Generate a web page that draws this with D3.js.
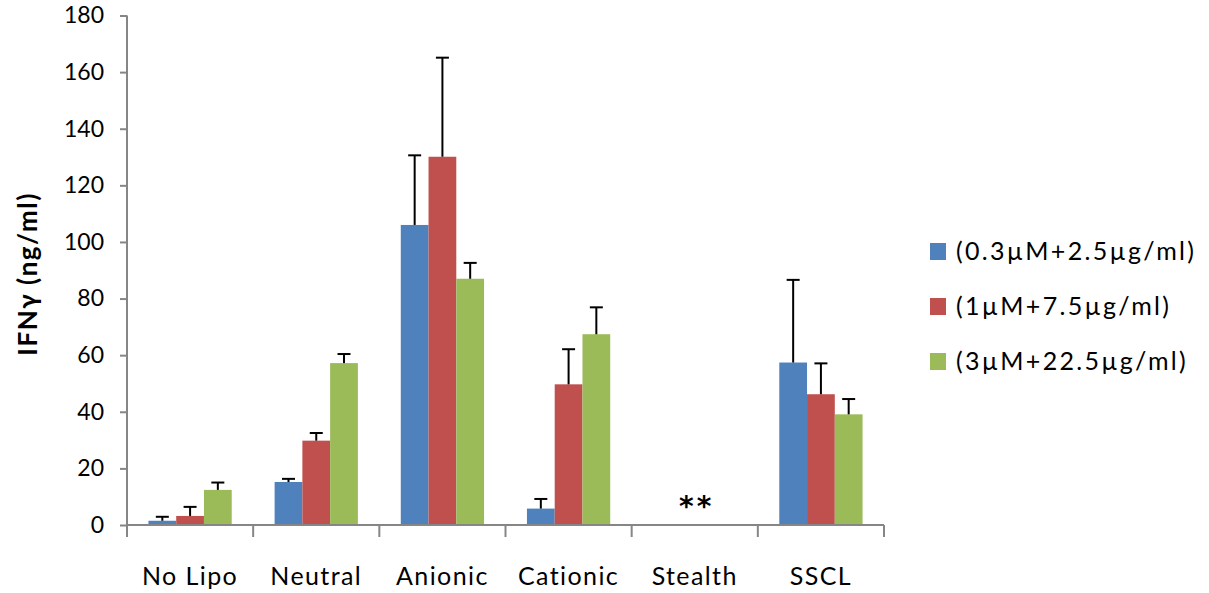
<!DOCTYPE html>
<html><head><meta charset="utf-8">
<script src="https://cdn.jsdelivr.net/npm/d3@7"></script>
<style>body{margin:0;background:#fff}svg{display:block}text{font-family:Lato,"Open Sans",sans-serif}</style>
</head><body>
<svg id="c" width="1209" height="593"></svg>
<script>
const categories = ["No Lipo","Neutral","Anionic","Cationic","Stealth","SSCL"];
const seriesNames = ["(0.3\u00b5M+2.5\u00b5g/ml)","(1\u00b5M+7.5\u00b5g/ml)","(3\u00b5M+22.5\u00b5g/ml)"];
const seriesColors = ["#4F81BD","#C0504D","#9BBB59"];
const s1Values = [1.5, 15.2, 106, 5.8, null, 57.4];
const s2Values = [3.2, 29.8, 130.1, 49.7, null, 46.2];
const s3Values = [12.4, 57.2, 87.0, 67.4, null, 39.1];
const s1Err = [1.4, 1.1, 24.6, 3.4, null, 29.2];
const s2Err = [3.2, 2.7, 35.0, 12.4, null, 10.9];
const s3Err = [2.6, 3.2, 5.6, 9.5, null, 5.4];
const yTicks = [0,20,40,60,80,100,120,140,160,180];
const annotation = {category:"Stealth", text:"**"};
const yTitle = "IFN\u03b3 (ng/ml)";

const values = [s1Values, s2Values, s3Values];
const errs = [s1Err, s2Err, s3Err];

const svg = d3.select("#c");
const x0 = d3.scaleBand().domain(categories).range([127, 884]).padding(0);
const bw = x0.bandwidth();
const x1 = d3.scaleBand().domain(d3.range(3)).range([bw*0.17, bw*0.83]).padding(0);
const y = d3.scaleLinear().domain([0,180]).range([525, 15.5]);
const axisColor = "#868686";

// bars
const g = svg.append("g");
categories.forEach((c, ci) => {
  values.forEach((vals, si) => {
    const v = vals[ci];
    if (v == null) return;
    const bx = x0(c) + x1(si);
    g.append("rect").attr("x", bx).attr("y", y(v)).attr("width", x1.bandwidth()).attr("height", y(0)-y(v))
      .attr("fill", seriesColors[si]);
    const e = errs[si][ci];
    const cx = bx + x1.bandwidth()/2;
    g.append("line").attr("x1", cx).attr("x2", cx).attr("y1", y(v)).attr("y2", y(v+e)).attr("stroke","#000").attr("stroke-width",2);
    g.append("line").attr("x1", cx-6.5).attr("x2", cx+6.5).attr("y1", y(v+e)).attr("y2", y(v+e)).attr("stroke","#000").attr("stroke-width",2);
  });
});

// y axis
const yAxis = d3.axisLeft(y).tickValues(yTicks).tickSize(7).tickPadding(16);
const ya = svg.append("g").attr("transform","translate(127,0)").call(yAxis);
ya.select(".domain").attr("stroke", axisColor).attr("stroke-width",2).attr("d","M0,15.5V525");
ya.selectAll(".tick line").attr("stroke", axisColor).attr("stroke-width",2);
ya.selectAll(".tick text").attr("font-size",23).attr("fill","#000");

// x axis
const xa = svg.append("g");
xa.append("line").attr("x1",127).attr("x2",884).attr("y1",y(0)).attr("y2",y(0)).attr("stroke",axisColor).attr("stroke-width",2);
const bounds = categories.map(c => x0(c)).concat([x0(categories[categories.length-1]) + bw]);
xa.selectAll(".xt").data(bounds).enter().append("line").attr("x1",d=>d).attr("x2",d=>d)
  .attr("y1",y(0)).attr("y2",y(0)+12).attr("stroke",axisColor).attr("stroke-width",2);
xa.selectAll(".xl").data(categories).enter().append("text")
  .attr("x", d => x0(d)+bw/2).attr("y", 585).attr("text-anchor","middle").attr("font-size",25)
  .attr("letter-spacing",1.4).attr("fill","#000")
  .text(d => d);

// annotation
svg.append("text").attr("x", x0(annotation.category)+bw/2 + 2).attr("y", 516).attr("text-anchor","middle")
  .style("font-family","'DejaVu Sans', sans-serif").attr("font-size",28).attr("font-weight","bold").attr("letter-spacing",3)
  .text(annotation.text);

// y title
svg.append("text").attr("transform","translate(37,274) rotate(-90)").attr("text-anchor","middle")
  .attr("font-size",26).attr("font-weight","bold").attr("letter-spacing",1.5).text(yTitle);

// legend
const leg = svg.append("g");
seriesNames.forEach((n, i) => {
  const ly = 251 + i*55;
  leg.append("rect").attr("x",930).attr("y",ly-8).attr("width",16).attr("height",17).attr("fill",seriesColors[i]);
  leg.append("text").attr("x",956).attr("y",ly).attr("dy","0.35em").attr("font-size",25)
    .attr("letter-spacing",2.3).text(n);
});
</script>
</body></html>
